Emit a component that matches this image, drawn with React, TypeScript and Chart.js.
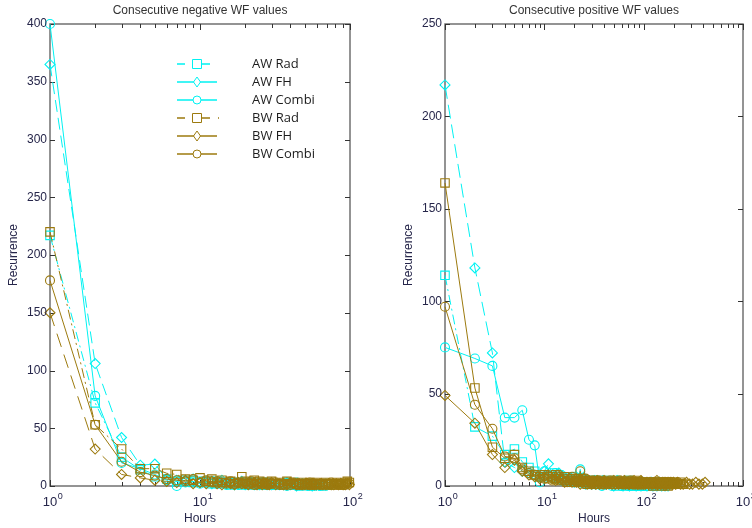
import React, { useEffect, useRef } from 'react';
import { Chart, registerables } from 'chart.js';

Chart.register(...registerables);

// ---- data -------------------------------------------------------------
const seriesNames = ['AW Rad', 'AW FH', 'AW Combi', 'BW Rad', 'BW FH', 'BW Combi'];

// Hours at which each recurrence count was recorded
const leftHours = [1, 2, 3, 4, 5, 6, 7, 8, 9, 10, 11, 12, 13, 14, 15, 16, 17, 18, 19, 20,
  21, 22, 23, 24, 25, 26, 27, 28, 29, 30,
  32, 34, 36, 38, 40, 42, 44, 46, 48, 50, 52, 54, 56, 58, 60,
  63, 66, 69, 72, 75, 78, 81, 84, 87, 90, 93, 96, 99];

const rightHours = [1, 2, 3, 4, 5, 6, 7, 8, 9, 10, 11, 12, 13, 14, 15, 16, 17, 18, 19, 20,
  21, 22, 23, 24, 25, 26, 27, 28, 29, 30, 31, 32, 33, 34, 35, 36, 37, 38, 39, 40,
  42, 44, 46, 48, 50, 52, 54, 56, 58, 60, 62, 64, 66, 68, 70, 72, 74, 76, 78, 80,
  82, 84, 86, 88, 90, 92, 94, 96, 98, 100,
  104, 108, 112, 116, 120, 124, 128, 132, 136, 140, 144, 148, 152, 156, 160, 164, 168,
  172, 176, 180, 184, 188, 192, 196, 200,
  210, 220, 235, 250, 270, 290, 310, 335, 360, 390, 415];

// Consecutive negative WF values
const negAwRad = [217, 72, 25, 14, 8, 6, 4, 5, 3, 4, 3, 2, 4, 2, 3, 1, 2, 3, 1, 2,
  3, 1, 2, 2, 1, 3, 1, 2, 1, 2,
  1, 2, 1, 3, 1, 1, 2, 0, 1, 2, 1, 1, 0, 2, 1,
  1, 0, 2, 1];
const negAwFh = [365, 106, 42, 18, 19, 6, 5, 4, 6, 3, 4, 2, 3, 5, 2, 3, 1, 2, 4, 1,
  2, 3, 1, 2, 1, 3, 2, 1, 2, 1,
  2, 1, 1, 3, 1, 2, 0, 1, 2, 1, 1, 2, 0, 1, 1];
const negAwCombi = [400, 78, 20, 15, 10, 5, 0, 3, 4, 2, 3, 4, 2, 3, 1, 2, 3, 1, 2, 2,
  1, 3, 2, 1, 2, 1, 2, 3, 1, 2,
  1, 2, 1, 0, 2, 1, 3, 1, 1, 2, 0, 1, 2, 1, 1,
  0, 1, 2, 1];
const negBwRad = [220, 53, 32, 15, 15, 11, 10, 6, 5, 7, 4, 6, 3, 5, 3, 4, 2, 3, 8, 4,
  2, 3, 5, 2, 4, 3, 2, 3, 2, 4,
  2, 3, 1, 4, 2, 3, 2, 1, 3, 2, 2, 3, 1, 2, 3,
  2, 1, 3, 2, 2, 1, 3, 2, 1, 2, 3, 4, 3];
const negBwFh = [150, 32, 10, 7, 5, 4, 3, 5, 2, 3, 2, 4, 2, 1, 3, 2, 1, 3, 2, 2,
  1, 2, 3, 1, 2, 1, 2, 2, 1, 3,
  1, 2, 1, 1, 3, 2, 1, 2, 1, 1, 2, 1, 2, 1, 1,
  2, 1, 1, 2, 1, 1, 2, 1, 2, 1, 1, 2, 1];
const negBwCombi = [178, 53, 21, 12, 9, 6, 5, 4, 6, 3, 5, 3, 4, 3, 2, 4, 2, 3, 2, 3,
  2, 4, 1, 3, 2, 2, 3, 1, 2, 2,
  3, 1, 2, 2, 1, 3, 2, 1, 2, 2, 1, 3, 1, 2, 2,
  1, 2, 2, 1, 3, 1, 2, 2, 1, 2, 1, 2, 2];

// Consecutive positive WF values
const posAwRad = [114, 32, 27, 17, 20, 13, 10, 8, 5, 6, 5, 7, 4, 6, 4, 3, 5, 3, 2, 4,
  3, 2, 4, 2, 3, 2, 1, 3, 2, 2, 1, 3, 2, 2, 1, 2, 3, 1, 2, 1,
  2, 1, 3, 1, 2, 2, 1, 0, 2, 1, 1, 2, 0, 1, 3, 1, 1, 2, 0, 1,
  2, 1, 1, 0, 2, 1, 1, 0, 1, 2,
  1, 0, 1, 2, 1, 1, 0, 1, 1, 0, 2, 1, 0, 1, 1];
const posAwFh = [217, 118, 72, 13, 10, 8, 7, 6, 5, 8, 12, 6, 5, 7, 4, 5, 3, 4, 3, 2,
  4, 3, 2, 3, 2, 1, 3, 2, 2, 1, 2, 3, 1, 2, 2, 1, 2, 1, 3, 1,
  1, 2, 2, 1, 0, 1, 3, 1, 2, 1, 0, 1, 2, 1, 1, 0, 2, 1, 1, 2,
  1, 0, 1, 2, 1, 1, 0, 1, 2, 1,
  1, 0, 1, 1, 2, 0, 1, 1, 0, 1, 2, 1, 0, 1, 1, 0, 1, 1, 0, 1, 1];
const posAwCombi = [75, 69, 65, 37, 37, 41, 25, 22, 2, 8, 6, 5, 7, 5, 3, 4, 4, 2, 3, 5,
  2, 3, 9, 2, 4, 2, 3, 1, 2, 1, 2, 1, 3, 2, 1, 2, 1, 0, 2, 1,
  1, 2, 1, 0, 2, 1, 1, 3, 1, 0, 1, 2, 1, 1, 0, 2, 1, 0, 1, 1,
  2, 0, 1, 1, 0, 1, 2, 1, 0, 1,
  1, 0, 1, 1, 2, 0, 1, 0, 1, 1, 0, 1];
const posBwRad = [164, 53, 21, 15, 17, 10, 8, 6, 5, 6, 4, 5, 6, 4, 3, 5, 2, 3, 4, 2,
  3, 4, 2, 3, 2, 3, 1, 2, 3, 2, 2, 1, 3, 2, 2, 1, 3, 2, 1, 2,
  2, 3, 1, 2, 1, 2, 3, 1, 2, 1, 1, 2, 2, 1, 3, 1, 2, 1, 1, 2,
  2, 1, 3, 1, 1, 2, 1, 2, 1, 1,
  2, 1, 1, 2, 1, 0, 2, 1, 1, 2, 1, 1, 0, 2, 1, 1, 2, 1, 0, 1, 2, 1, 1, 1, 2,
  1, 1, 2, 1];
const posBwFh = [49, 34, 17, 10, 14, 8, 6, 5, 4, 5, 6, 4, 3, 5, 4, 2, 3, 4, 2, 3,
  2, 3, 1, 2, 4, 2, 1, 3, 2, 1, 2, 2, 1, 3, 2, 1, 2, 2, 1, 3,
  1, 2, 2, 1, 3, 1, 2, 1, 2, 2, 1, 3, 1, 2, 1, 1, 2, 2, 1, 3,
  1, 2, 1, 1, 2, 1, 3, 1, 2, 1,
  1, 2, 1, 2, 1, 1, 2, 1, 3, 1, 2, 1, 1, 2, 1, 2, 1, 1, 2, 1, 1, 2, 1, 1, 2,
  1, 2, 1, 1, 2, 1, 1, 2, 1, 1, 2];
const posBwCombi = [97, 44, 31, 16, 15, 9, 7, 6, 5, 4, 5, 3, 4, 6, 3, 4, 2, 3, 5, 2,
  3, 2, 8, 3, 2, 4, 2, 3, 1, 2, 3, 2, 1, 2, 3, 2, 1, 2, 2, 1,
  2, 1, 3, 2, 1, 2, 1, 2, 3, 1, 2, 1, 1, 2, 2, 1, 3, 1, 2, 1,
  1, 2, 1, 2, 1, 1, 2, 1, 2, 1,
  1, 2, 1, 1, 2, 1, 2, 1, 1, 2, 1, 1, 2, 1, 1, 2, 1, 1, 2, 1, 1, 1, 2, 1, 1,
  1, 2, 1, 1];

// Axis ticks
const leftYTicks = [0, 50, 100, 150, 200, 250, 300, 350, 400];
const rightYTicks = [0, 50, 100, 150, 200, 250];
const leftDecades = [0, 1, 2];
const rightDecades = [0, 1, 2, 3];

// ---- styling ----------------------------------------------------------
const CYAN = '#00f2f2';
const BROWN = 'rgb(156,122,14)';
const seriesColors = [CYAN, CYAN, CYAN, BROWN, BROWN, BROWN];
const markerStyles = ['rect', 'rectRot', 'circle', 'rect', 'rectRot', 'circle'];
const markerRadius = [6, 5, 4.5, 6, 5, 4.5];
const TEXT = '#26264a';
const AXIS_FONT = '"Liberation Sans", Arial, sans-serif';

type Panel = {
  title: string;
  hours: number[];
  values: number[][];
  dashes: number[][];
  yMax: number;
  xMax: number;
  yTicks: number[];
  decades: number[];
  pad: { left: number; right: number; top: number; bottom: number };
  legend: boolean;
};

const panels: Panel[] = [
  {
    title: 'Consecutive negative WF values',
    hours: leftHours,
    values: [negAwRad, negAwFh, negAwCombi, negBwRad, negBwFh, negBwCombi],
    dashes: [[10, 4, 2, 4], [12, 6], [], [10, 4, 2, 4], [14, 8], []],
    yMax: 400,
    xMax: 100,
    yTicks: leftYTicks,
    decades: leftDecades,
    pad: { left: 50, right: 26, top: 24, bottom: 42 },
    legend: true,
  },
  {
    title: 'Consecutive positive WF values',
    hours: rightHours,
    values: [posAwRad, posAwFh, posAwCombi, posBwRad, posBwFh, posBwCombi],
    dashes: [[10, 4, 2, 4], [14, 6], [], [], [], []],
    yMax: 250,
    xMax: 1000,
    yTicks: rightYTicks,
    decades: rightDecades,
    pad: { left: 69, right: 9, top: 24, bottom: 42 },
    legend: false,
  },
];

// legend rows: line dash used in the key
const legendDashes = [[8, 17], [], [], [8, 8, 1, 8], [], []];
const legendLineEnd = [212, 217, 217, 219, 217, 217];

function drawMarker(ctx: CanvasRenderingContext2D, style: string, x: number, y: number) {
  ctx.beginPath();
  if (style === 'rect') {
    ctx.rect(x - 4.5, y - 4.5, 9, 9);
  } else if (style === 'rectRot') {
    ctx.moveTo(x, y - 5);
    ctx.lineTo(x + 3.5, y);
    ctx.lineTo(x, y + 5);
    ctx.lineTo(x - 3.5, y);
    ctx.closePath();
  } else {
    ctx.arc(x, y, 4, 0, Math.PI * 2);
  }
  ctx.fillStyle = '#fff';
  ctx.fill();
  ctx.stroke();
}

function makeAxesPlugin(p: Panel) {
  return {
    id: 'matlabAxes',
    beforeDatasetsDraw(chart: any) {
      const { ctx, chartArea: a } = chart;
      const xs = chart.scales.x;
      const ys = chart.scales.y;
      ctx.save();
      // box
      ctx.strokeStyle = '#707070';
      ctx.lineWidth = 1.5;
      ctx.strokeRect(a.left, a.top, a.right - a.left, a.bottom - a.top);
      // ticks pointing inward
      ctx.strokeStyle = '#333';
      ctx.lineWidth = 1;
      ctx.beginPath();
      for (const t of p.yTicks) {
        const py = Math.round(ys.getPixelForValue(t)) + 0.5;
        ctx.moveTo(a.left, py); ctx.lineTo(a.left + 5, py);
        ctx.moveTo(a.right, py); ctx.lineTo(a.right - 5, py);
      }
      p.decades.forEach((d, i) => {
        const px = Math.round(xs.getPixelForValue(Math.pow(10, d))) + 0.5;
        ctx.moveTo(px, a.bottom); ctx.lineTo(px, a.bottom - 6);
        ctx.moveTo(px, a.top); ctx.lineTo(px, a.top + 6);
        if (i < p.decades.length - 1) {
          for (let m = 2; m <= 9; m++) {
            const qx = Math.round(xs.getPixelForValue(m * Math.pow(10, d))) + 0.5;
            ctx.moveTo(qx, a.bottom); ctx.lineTo(qx, a.bottom - 4);
            ctx.moveTo(qx, a.top); ctx.lineTo(qx, a.top + 4);
          }
        }
      });
      ctx.stroke();
      ctx.restore();
    },
    afterDraw(chart: any) {
      const { ctx, chartArea: a } = chart;
      const xs = chart.scales.x;
      const ys = chart.scales.y;
      const cx = (a.left + a.right) / 2;
      ctx.save();
      ctx.fillStyle = TEXT;
      // y tick labels
      ctx.font = `12px ${AXIS_FONT}`;
      ctx.textAlign = 'right';
      ctx.textBaseline = 'middle';
      for (const t of p.yTicks) {
        ctx.fillText(String(t), a.left - 3, ys.getPixelForValue(t));
      }
      // x tick labels as powers of ten
      ctx.textBaseline = 'alphabetic';
      for (const d of p.decades) {
        const px = xs.getPixelForValue(Math.pow(10, d));
        ctx.font = `13px ${AXIS_FONT}`;
        ctx.textAlign = 'center';
        ctx.fillText('10', px, a.bottom + 20);
        const w = ctx.measureText('10').width;
        ctx.font = `9px ${AXIS_FONT}`;
        ctx.textAlign = 'left';
        ctx.fillText(String(d), px + w / 2 + 0.5, a.bottom + 13);
      }
      // axis titles
      ctx.font = `12px ${AXIS_FONT}`;
      ctx.textAlign = 'center';
      ctx.fillText('Hours', cx, a.bottom + 36);
      ctx.save();
      ctx.translate(a.left - 36, (a.top + a.bottom) / 2);
      ctx.rotate(-Math.PI / 2);
      ctx.textBaseline = 'middle';
      ctx.fillText('Recurrence', 0, 0);
      ctx.restore();
      // panel title
      ctx.fillStyle = '#333';
      ctx.textBaseline = 'middle';
      ctx.fillText(p.title, cx, 11);

      if (p.legend) {
        seriesNames.forEach((name, i) => {
          const y = 64 + i * 18;
          ctx.strokeStyle = seriesColors[i];
          ctx.lineWidth = 1.3;
          ctx.setLineDash(legendDashes[i]);
          ctx.beginPath();
          ctx.moveTo(177, y);
          ctx.lineTo(legendLineEnd[i], y);
          ctx.stroke();
          ctx.setLineDash([]);
          ctx.lineWidth = 1;
          drawMarker(ctx, markerStyles[i], 197, y);
          ctx.fillStyle = '#1c1c1c';
          ctx.font = '13px "Open Sans", sans-serif';
          ctx.textAlign = 'left';
          ctx.textBaseline = 'middle';
          ctx.fillText(name, 252, y);
        });
      }
      ctx.restore();
    },
  };
}

function PanelChart({ panel }: { panel: Panel }) {
  const ref = useRef<HTMLCanvasElement | null>(null);
  useEffect(() => {
    if (!ref.current) return;
    const datasets = panel.values.map((vals, i) => ({
      label: seriesNames[i],
      data: vals.map((v, k) => ({ x: panel.hours[k], y: v })),
      borderColor: seriesColors[i],
      borderWidth: 1,
      borderDash: panel.dashes[i],
      pointStyle: markerStyles[i],
      pointRadius: markerRadius[i],
      pointBorderColor: seriesColors[i],
      pointBackgroundColor: 'rgba(0,0,0,0)',
      pointBorderWidth: 1.1,
      fill: false,
      tension: 0,
      clip: false as any,
      order: 6 - i,
    }));
    const chart = new Chart(ref.current, {
      type: 'line',
      data: { datasets },
      options: {
        animation: false,
        responsive: false,
        maintainAspectRatio: false,
        layout: { padding: panel.pad },
        plugins: {
          legend: { display: false },
          tooltip: { enabled: false },
          title: { display: false },
        },
        scales: {
          x: { type: 'logarithmic', min: 1, max: panel.xMax, display: false },
          y: { type: 'linear', min: 0, max: panel.yMax, display: false },
        },
      },
      plugins: [makeAxesPlugin(panel)],
    } as any);
    return () => chart.destroy();
  }, [panel]);
  return <canvas ref={ref} width={376} height={528} style={{ display: 'block' }} />;
}

export default function App() {
  return (
    <div
      style={{
        position: 'fixed',
        left: 0,
        top: 0,
        width: 752,
        height: 528,
        background: '#fff',
        display: 'flex',
      }}
    >
      {panels.map((p) => (
        <PanelChart key={p.title} panel={p} />
      ))}
    </div>
  );
}
